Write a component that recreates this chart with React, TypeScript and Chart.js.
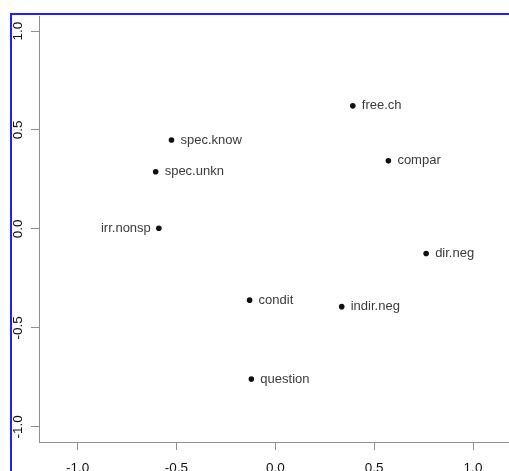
import React, { useEffect, useRef } from 'react';
import { Chart, registerables } from 'chart.js';

Chart.register(...registerables);

// Category labels and coordinates (dimension 1 = x, dimension 2 = y)
const termLabels = ['free.ch', 'compar', 'spec.know', 'spec.unkn', 'irr.nonsp', 'dir.neg', 'condit', 'indir.neg', 'question'];
const dim1 = [0.392, 0.572, -0.525, -0.605, -0.589, 0.763, -0.130, 0.336, -0.121];
const dim2 = [0.622, 0.344, 0.449, 0.289, 0.003, -0.124, -0.360, -0.393, -0.759];
const xTicks = [-1, -0.5, 0, 0.5, 1];
const yTicks = [-1, -0.5, 0, 0.5, 1];

const FONT = '"Liberation Sans", Arial, Helvetica, sans-serif';
const leftSideLabels = ['irr.nonsp'];

const labelPlugin = {
  id: 'pointLabels',
  afterDatasetsDraw(chart: any) {
    const ctx = chart.ctx;
    const meta = chart.getDatasetMeta(0);
    ctx.save();
    ctx.font = `13px ${FONT}`;
    ctx.fillStyle = '#3a3a3a';
    ctx.textBaseline = 'middle';
    meta.data.forEach((el: any, i: number) => {
      const name = termLabels[i];
      const left = leftSideLabels.includes(name);
      ctx.textAlign = left ? 'right' : 'left';
      ctx.fillText(name, el.x + (left ? -8 : 9), el.y);
    });
    ctx.restore();
  },
};

export default function App() {
  const ref = useRef<HTMLCanvasElement>(null);

  useEffect(() => {
    if (!ref.current) return;
    const points = dim1.map((x, i) => ({ x, y: dim2[i] }));
    const axisGrey = '#8e8e8e';
    const chart = new Chart(ref.current, {
      type: 'scatter',
      data: {
        datasets: [
          {
            data: points,
            backgroundColor: '#111111',
            borderWidth: 0,
            pointRadius: 2.8,
            pointHoverRadius: 2.8,
          },
        ],
      },
      options: {
        animation: false,
        responsive: false,
        devicePixelRatio: 1,
        layout: { padding: { top: 16, right: 0, left: 0, bottom: 0 } },
        plugins: { legend: { display: false }, tooltip: { enabled: false } },
        events: [],
        scales: {
          x: {
            type: 'linear',
            min: -1.195,
            max: 1.178,
            afterBuildTicks: (s: any) => {
              s.ticks = xTicks.map((v) => ({ value: v }));
            },
            afterFit: (s: any) => {
              s.height = 29;
            },
            grid: { display: true, drawOnChartArea: false, drawTicks: true, tickLength: 8, tickColor: axisGrey, tickWidth: 1 },
            border: { display: true, color: axisGrey, width: 1 },
            ticks: {
              color: '#111111',
              font: { size: 13.5, family: FONT },
              padding: 10,
              minRotation: 0,
              maxRotation: 0,
              callback: (v: any) => Number(v).toFixed(1),
            },
          },
          y: {
            type: 'linear',
            min: -1.077,
            max: 1.076,
            afterBuildTicks: (s: any) => {
              s.ticks = yTicks.map((v) => ({ value: v }));
            },
            afterFit: (s: any) => {
              s.width = 39;
            },
            grid: { display: true, drawOnChartArea: false, drawTicks: true, tickLength: 8, tickColor: axisGrey, tickWidth: 1 },
            border: { display: true, color: axisGrey, width: 1 },
            ticks: {
              color: '#111111',
              font: { size: 13.5, family: FONT },
              padding: 1,
              minRotation: 90,
              maxRotation: 90,
              crossAlign: 'center',
              callback: (v: any) => Number(v).toFixed(1),
            },
          },
        },
      },
      plugins: [labelPlugin],
    });
    return () => chart.destroy();
  }, []);

  return (
    <div style={{ position: 'absolute', left: 0, top: 0, width: 509, height: 471, background: '#ffffff', overflow: 'hidden' }}>
      <canvas ref={ref} width={511} height={471} style={{ position: 'absolute', left: 0, top: 0, width: 511, height: 471 }} />
      <div style={{ position: 'absolute', left: 10, top: 13, width: 2, height: 458, background: '#1f1fff' }} />
      <div style={{ position: 'absolute', left: 10, top: 13, width: 499, height: 2, background: '#1f1fff' }} />
    </div>
  );
}
